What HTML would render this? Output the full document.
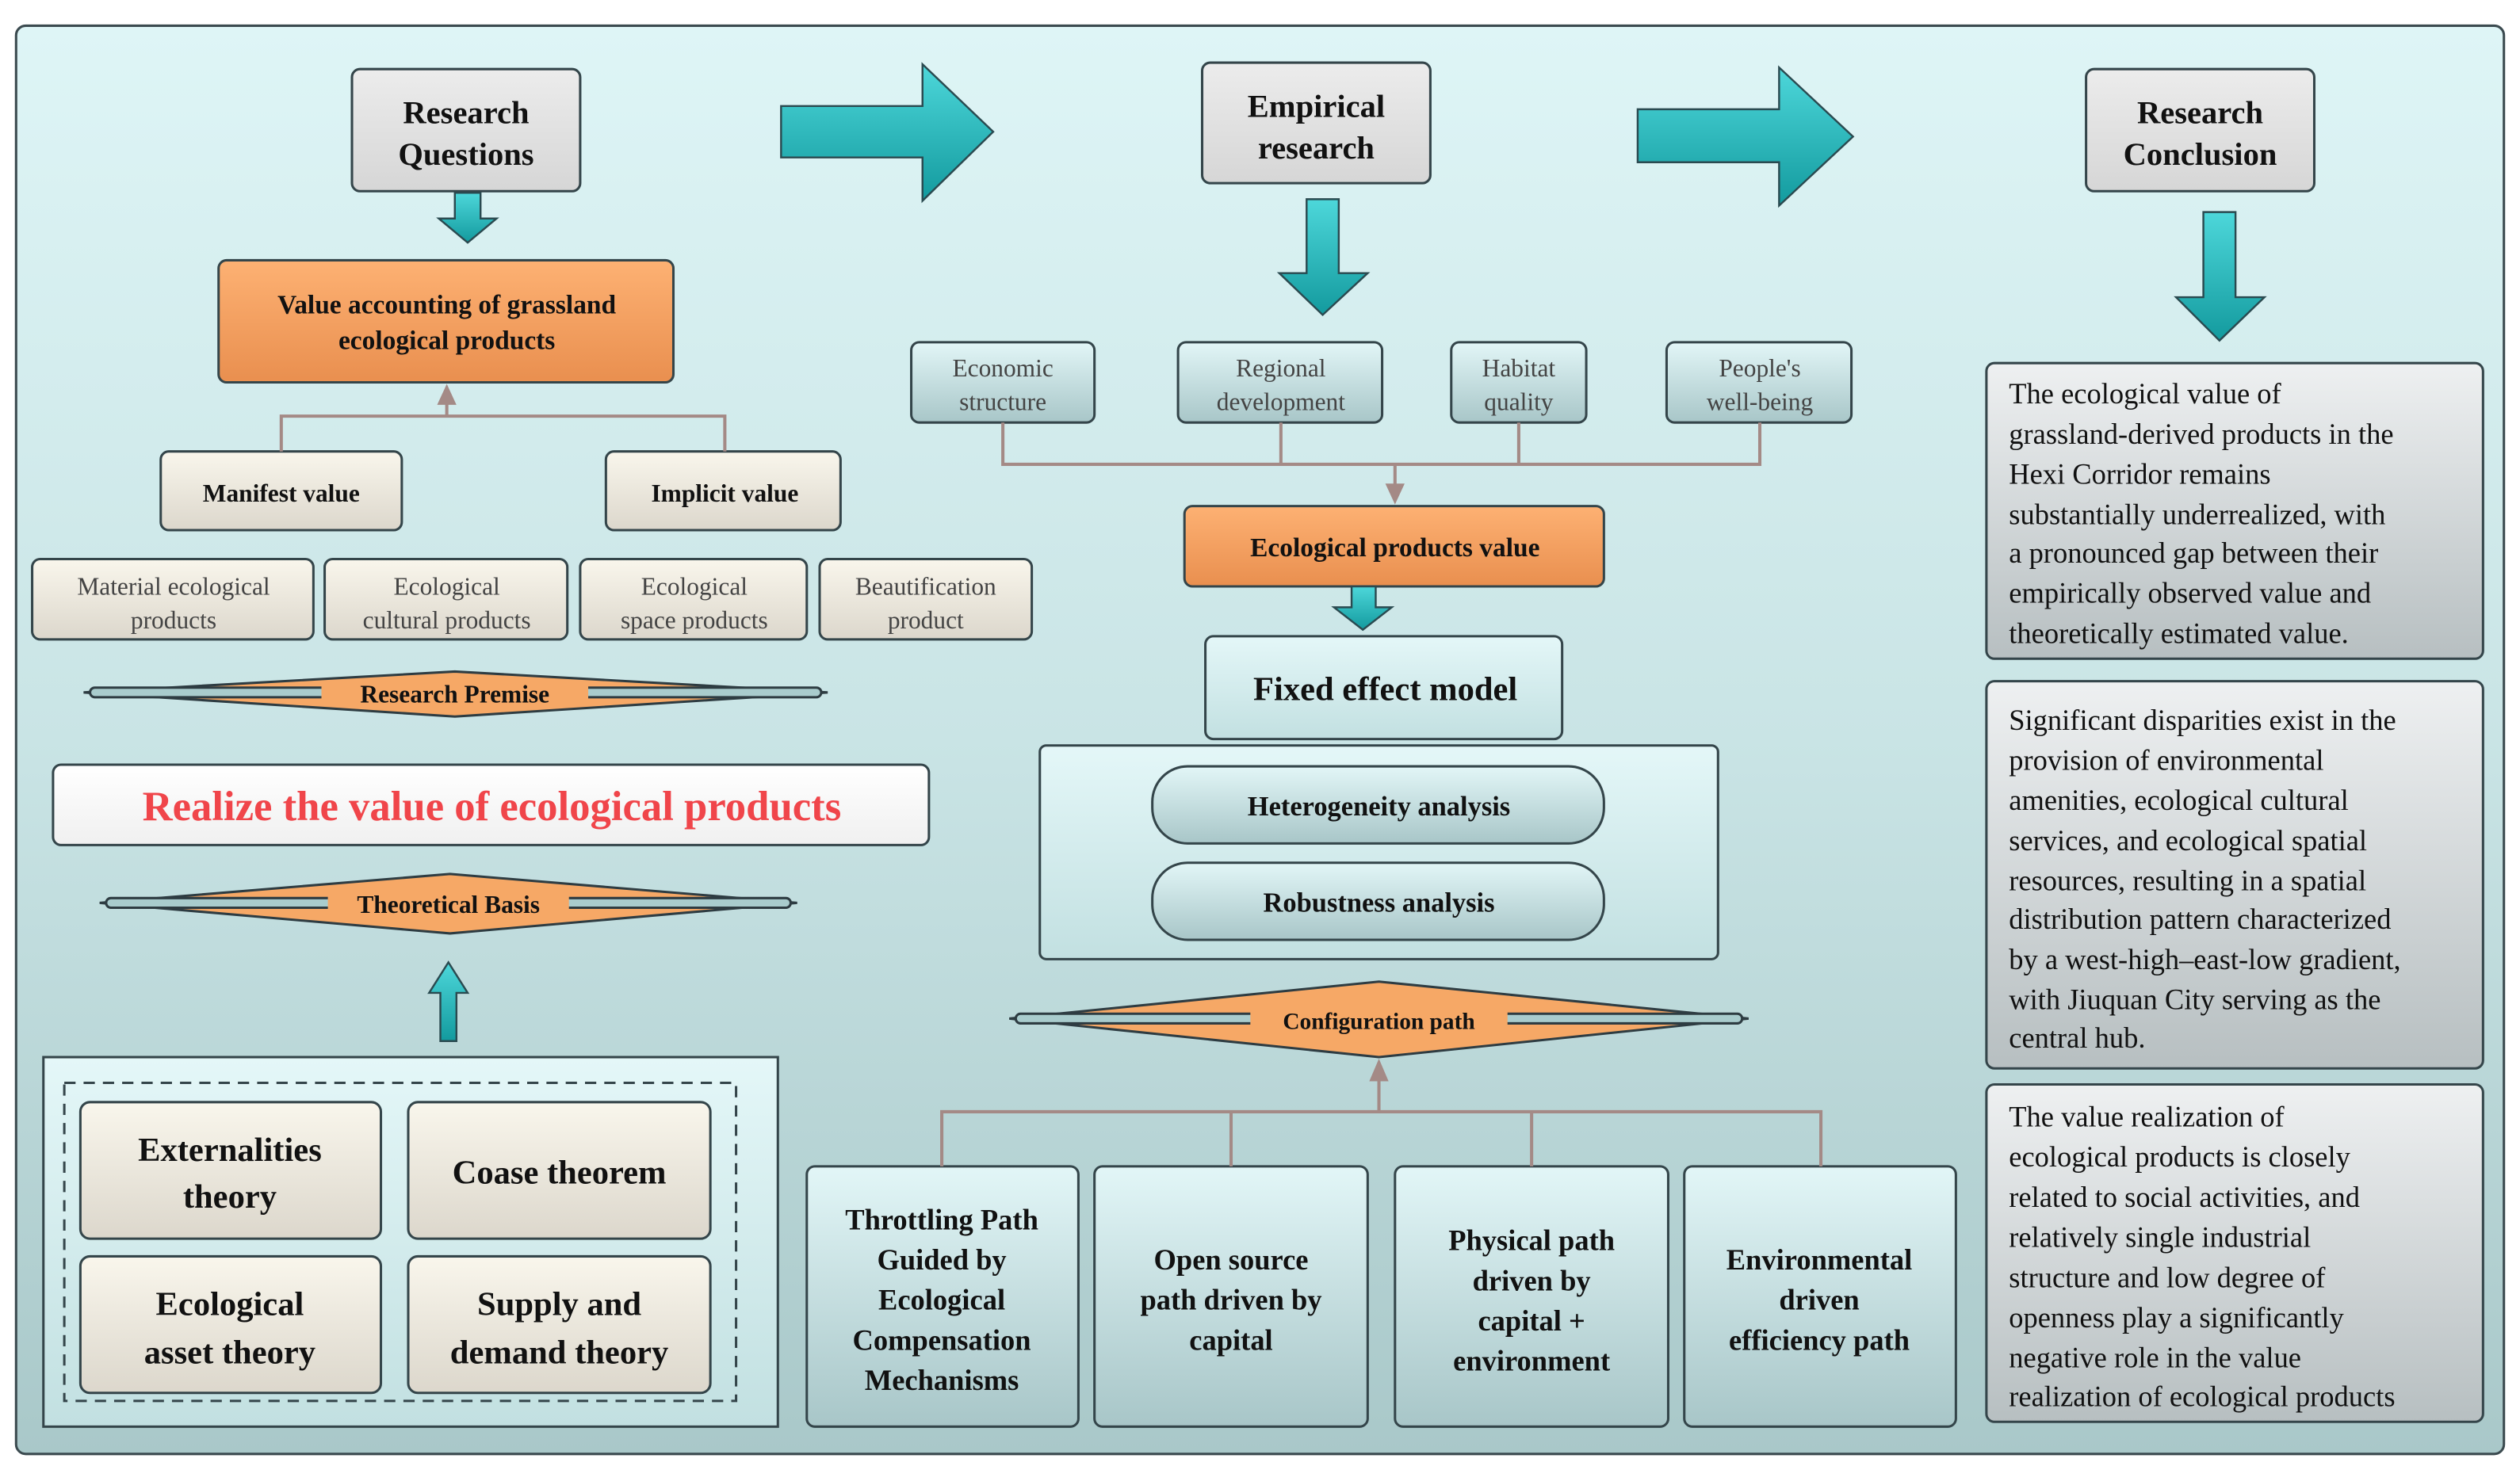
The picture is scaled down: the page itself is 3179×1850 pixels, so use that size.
<!DOCTYPE html>
<html><head><meta charset="utf-8"><style>
html,body{margin:0;padding:0;background:#fff;}
svg{display:block;font-family:"Liberation Serif","DejaVu Serif",serif;}
svg text{font-family:"Liberation Serif","DejaVu Serif",serif;fill:#111;}
.b{font-weight:bold;}
</style></head><body>
<svg width="3179" height="1850" viewBox="0 0 1568 912.5" xmlns="http://www.w3.org/2000/svg" font-family="Liberation Serif, DejaVu Serif, serif">
<defs>
<linearGradient id="bg" x1="0" y1="0" x2="0" y2="1"><stop offset="0" stop-color="#def5f6"/><stop offset="0.5" stop-color="#c9e4e5"/><stop offset="1" stop-color="#a9c8c9"/></linearGradient>
<linearGradient id="gr" x1="0" y1="0" x2="0" y2="1"><stop offset="0" stop-color="#ececec"/><stop offset="1" stop-color="#d6d6d6"/></linearGradient>
<linearGradient id="or" x1="0" y1="0" x2="0" y2="1"><stop offset="0" stop-color="#fdb173"/><stop offset="1" stop-color="#e98f4f"/></linearGradient>
<linearGradient id="cr" x1="0" y1="0" x2="0" y2="1"><stop offset="0" stop-color="#f9f6ec"/><stop offset="1" stop-color="#dcd7cc"/></linearGradient>
<linearGradient id="cy" x1="0" y1="0" x2="0" y2="1"><stop offset="0" stop-color="#e2f6f7"/><stop offset="1" stop-color="#a8c6c8"/></linearGradient>
<linearGradient id="cy2" x1="0" y1="0" x2="0" y2="1"><stop offset="0" stop-color="#e4f7f8"/><stop offset="1" stop-color="#c2e0e1"/></linearGradient>
<linearGradient id="cc" x1="0" y1="0" x2="0" y2="1"><stop offset="0" stop-color="#eef0f1"/><stop offset="1" stop-color="#b7bfc1"/></linearGradient>
<linearGradient id="tl" x1="0" y1="0" x2="0" y2="1"><stop offset="0" stop-color="#4dd7da"/><stop offset="1" stop-color="#139a9e"/></linearGradient>
<linearGradient id="wh" x1="0" y1="0" x2="0" y2="1"><stop offset="0" stop-color="#ffffff"/><stop offset="1" stop-color="#f0f0f0"/></linearGradient>
</defs>
<rect x="0" y="0" width="1568" height="912.5" fill="#fff"/>
<rect x="10" y="16" width="1548" height="889" rx="6" fill="url(#bg)" stroke="#3b4a4f" stroke-width="1.5"/>

<g stroke="#34454a" stroke-width="1.5">
<rect x="219" y="43" width="142" height="76" rx="5" fill="url(#gr)"/>
<rect x="136" y="162" width="283" height="76" rx="5" fill="url(#or)"/>
<rect x="100" y="281" width="150" height="49" rx="5" fill="url(#cr)"/>
<rect x="377" y="281" width="146" height="49" rx="5" fill="url(#cr)"/>
<rect x="20" y="348" width="175" height="50" rx="5" fill="url(#cr)"/>
<rect x="202" y="348" width="151" height="50" rx="5" fill="url(#cr)"/>
<rect x="361" y="348" width="141" height="50" rx="5" fill="url(#cr)"/>
<rect x="510" y="348" width="132" height="50" rx="5" fill="url(#cr)"/>
<rect x="33" y="476" width="545" height="50" rx="5" fill="url(#wh)"/>
<rect x="27" y="658" width="457" height="230" fill="url(#cy2)"/>
<rect x="40" y="674" width="418" height="198" fill="none" stroke-dasharray="7,5"/>
<rect x="50" y="686" width="187" height="85" rx="6" fill="url(#cr)"/>
<rect x="254" y="686" width="188" height="85" rx="6" fill="url(#cr)"/>
<rect x="50" y="782" width="187" height="85" rx="6" fill="url(#cr)"/>
<rect x="254" y="782" width="188" height="85" rx="6" fill="url(#cr)"/>
<rect x="748" y="39" width="142" height="75" rx="5" fill="url(#gr)"/>
<rect x="567" y="213" width="114" height="50" rx="5" fill="url(#cy)"/>
<rect x="733" y="213" width="127" height="50" rx="5" fill="url(#cy)"/>
<rect x="903" y="213" width="84" height="50" rx="5" fill="url(#cy)"/>
<rect x="1037" y="213" width="115" height="50" rx="5" fill="url(#cy)"/>
<rect x="737" y="315" width="261" height="50" rx="5" fill="url(#or)"/>
<rect x="750" y="396" width="222" height="64" rx="5" fill="url(#cy2)"/>
<rect x="647" y="464" width="422" height="133" rx="4" fill="url(#cy2)"/>
<rect x="717" y="477" width="281" height="48" rx="22" fill="url(#cy)"/>
<rect x="717" y="537" width="281" height="48" rx="22" fill="url(#cy)"/>
<rect x="502" y="726" width="169" height="162" rx="5" fill="url(#cy)"/>
<rect x="681" y="726" width="170" height="162" rx="5" fill="url(#cy)"/>
<rect x="868" y="726" width="170" height="162" rx="5" fill="url(#cy)"/>
<rect x="1048" y="726" width="169" height="162" rx="5" fill="url(#cy)"/>
<rect x="1298" y="43" width="142" height="76" rx="5" fill="url(#gr)"/>
<rect x="1236" y="226" width="309" height="184" rx="5" fill="url(#cc)"/>
<rect x="1236" y="424" width="309" height="241" rx="5" fill="url(#cc)"/>
<rect x="1236" y="675" width="309" height="210" rx="5" fill="url(#cc)"/>

<g fill="url(#tl)" stroke="#2a4a50" stroke-width="1.2">
<polygon points="283,120 299,120 299,136 309,136 291,151 273,136 283,136"/>
<polygon points="486,66 574,66 574,40 618,82 574,125 574,98 486,98"/>
<polygon points="1019,68 1107,68 1107,42 1153,85 1107,128 1107,101 1019,101"/>
<polygon points="813,124 833,124 833,170 851,170 823,196 796,170 813,170"/>
<polygon points="1371,132 1391,132 1391,185 1409,185 1381,212 1354,185 1371,185"/>
<polygon points="841,365 856,365 856,378 866,378 848,392 830,378 841,378"/>
<polygon points="274,648 284,648 284,618 291,618 279,599 267,618 274,618"/>
</g>
</g>

<g stroke="#a48a86" stroke-width="2" fill="none">
<polyline points="175,281 175,259 451,259 451,281"/><line x1="278" y1="259" x2="278" y2="250"/>
<polyline points="624,263 624,289 1095,289 1095,263"/><line x1="797" y1="263" x2="797" y2="289"/><line x1="945" y1="263" x2="945" y2="289"/><line x1="868" y1="289" x2="868" y2="302"/>
<polyline points="586,726 586,692 1133,692 1133,726"/><line x1="766" y1="692" x2="766" y2="726"/><line x1="953" y1="692" x2="953" y2="726"/><line x1="858" y1="692" x2="858" y2="672"/>
</g>
<g fill="#a48a86">
<polygon points="278,239 272,252 284,252"/>
<polygon points="868,314 862,301 874,301"/>
<polygon points="858,659 852,673 864,673"/>
</g>

<g stroke="#2e3c42" stroke-width="1.5">
<polygon points="52,431 283,418 515,431 283,446" fill="#f6a866"/>
<rect x="56" y="428" width="455" height="6" rx="3" fill="#a9cccd"/>
<rect x="200" y="424" width="166" height="14" fill="#f6a866" stroke="none"/>
<polygon points="62,562 280,544 496,562 280,581" fill="#f6a866"/>
<rect x="66" y="559" width="426" height="6" rx="3" fill="#a9cccd"/>
<rect x="204" y="554" width="150" height="16" fill="#f6a866" stroke="none"/>
<polygon points="628,634 858,611 1088,634 858,658" fill="#f6a866"/>
<rect x="632" y="631" width="452" height="6" rx="3" fill="#a9cccd"/>
<rect x="778" y="626" width="160" height="16" fill="#f6a866" stroke="none"/>
</g>

<g text-anchor="middle" dominant-baseline="central">
<text x="290" y="70" class="b" font-size="20" fill="#222">Research</text>
<text x="290" y="96" class="b" font-size="20" fill="#222">Questions</text>
<text x="278" y="190" class="b" font-size="16.5">Value accounting of grassland</text>
<text x="278" y="212" class="b" font-size="16.5">ecological products</text>
<text x="175" y="307" class="b" font-size="15.5">Manifest value</text>
<text x="451" y="307" class="b" font-size="15.5">Implicit value</text>
<g font-size="15.5"><text x="108" y="365" style="fill:#444">Material ecological</text><text x="108" y="386" style="fill:#444">products</text>
<text x="278" y="365" style="fill:#444">Ecological</text><text x="278" y="386" style="fill:#444">cultural products</text>
<text x="432" y="365" style="fill:#444">Ecological</text><text x="432" y="386" style="fill:#444">space products</text>
<text x="576" y="365" style="fill:#444">Beautification</text><text x="576" y="386" style="fill:#444">product</text></g>
<text x="283" y="432" class="b" font-size="15.5">Research Premise</text>
<text x="306" y="502" class="b" font-size="26" style="fill:#f0454a">Realize the value of ecological products</text>
<text x="279" y="563" class="b" font-size="15.5">Theoretical Basis</text>
<text x="143" y="716" class="b" font-size="21">Externalities</text><text x="143" y="745" class="b" font-size="21">theory</text>
<text x="348" y="730" class="b" font-size="21">Coase theorem</text>
<text x="143" y="812" class="b" font-size="21">Ecological</text><text x="143" y="842" class="b" font-size="21">asset theory</text>
<text x="348" y="812" class="b" font-size="21">Supply and</text><text x="348" y="842" class="b" font-size="21">demand theory</text>

<text x="819" y="66" class="b" font-size="20">Empirical</text><text x="819" y="92" class="b" font-size="20">research</text>
<g font-size="15.5"><text x="624" y="229" style="fill:#444">Economic</text><text x="624" y="250" style="fill:#444">structure</text>
<text x="797" y="229" style="fill:#444">Regional</text><text x="797" y="250" style="fill:#444">development</text>
<text x="945" y="229" style="fill:#444">Habitat</text><text x="945" y="250" style="fill:#444">quality</text>
<text x="1095" y="229" style="fill:#444">People's</text><text x="1095" y="250" style="fill:#444">well-being</text></g>
<text x="868" y="341" class="b" font-size="16.5">Ecological products value</text>
<text x="862" y="429" class="b" font-size="21">Fixed effect model</text>
<text x="858" y="502" class="b" font-size="17">Heterogeneity analysis</text>
<text x="858" y="562" class="b" font-size="17">Robustness analysis</text>
<text x="858" y="636" class="b" font-size="14.5">Configuration path</text>
<g font-size="18">
<text x="586" y="759" class="b">Throttling Path</text><text x="586" y="784" class="b">Guided by</text><text x="586" y="809" class="b">Ecological</text><text x="586" y="834" class="b">Compensation</text><text x="586" y="859" class="b">Mechanisms</text>
<text x="766" y="784" class="b">Open source</text><text x="766" y="809" class="b">path driven by</text><text x="766" y="834" class="b">capital</text>
<text x="953" y="772" class="b">Physical path</text><text x="953" y="797" class="b">driven by</text><text x="953" y="822" class="b">capital +</text><text x="953" y="847" class="b">environment</text>
<text x="1132" y="784" class="b">Environmental</text><text x="1132" y="809" class="b">driven</text><text x="1132" y="834" class="b">efficiency path</text>
</g>
<text x="1369" y="70" class="b" font-size="20">Research</text><text x="1369" y="96" class="b" font-size="20">Conclusion</text>
</g>

<g font-size="18" dominant-baseline="central">
<text x="1250" y="245">The ecological value of</text>
<text x="1250" y="270">grassland-derived products in the</text>
<text x="1250" y="295">Hexi Corridor remains</text>
<text x="1250" y="320">substantially underrealized, with</text>
<text x="1250" y="344">a pronounced gap between their</text>
<text x="1250" y="369">empirically observed value and</text>
<text x="1250" y="394">theoretically estimated value.</text>

<text x="1250" y="448">Significant disparities exist in the</text>
<text x="1250" y="473">provision of environmental</text>
<text x="1250" y="498">amenities, ecological cultural</text>
<text x="1250" y="523">services, and ecological spatial</text>
<text x="1250" y="548">resources, resulting in a spatial</text>
<text x="1250" y="572">distribution pattern characterized</text>
<text x="1250" y="597">by a west-high–east-low gradient,</text>
<text x="1250" y="622">with Jiuquan City serving as the</text>
<text x="1250" y="646">central hub.</text>

<text x="1250" y="695">The value realization of</text>
<text x="1250" y="720">ecological products is closely</text>
<text x="1250" y="745">related to social activities, and</text>
<text x="1250" y="770">relatively single industrial</text>
<text x="1250" y="795">structure and low degree of</text>
<text x="1250" y="820">openness play a significantly</text>
<text x="1250" y="845">negative role in the value</text>
<text x="1250" y="869">realization of ecological products</text>
</g>
</svg>
</body></html>
